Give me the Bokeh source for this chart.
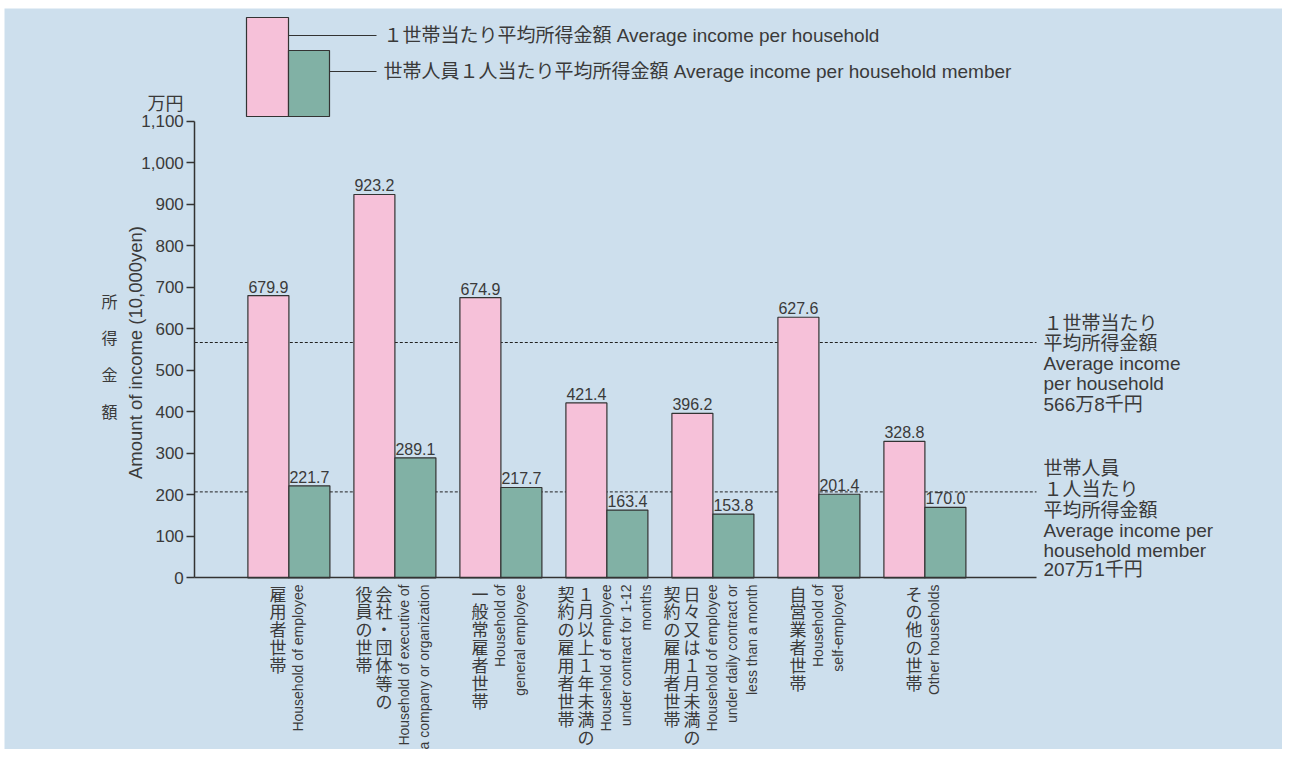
import math
from bokeh.plotting import figure
from bokeh.models import Range1d, LinearAxis, FixedTicker, NumeralTickFormatter
from bokeh.core.properties import value
from bokeh.embed import file_html
from bokeh.resources import INLINE

# ---------------- data ----------------
ja_columns = [
    ["雇用者世帯"],
    ["会社・団体等の", "役員の世帯"],
    ["一般常雇者世帯"],
    ["１月以上１年未満の", "契約の雇用者世帯"],
    ["日々又は１月未満の", "契約の雇用者世帯"],
    ["自営業者世帯"],
    ["その他の世帯"],
]
en_lines = [
    ["Household of employee"],
    ["Household of executive of", "a company or organization"],
    ["Household of", "general employee"],
    ["Household of employee", "under contract for 1-12", "months"],
    ["Household of employee", "under daily contract or", "less than a month"],
    ["Household of", "self-employed"],
    ["Other households"],
]
income_household = [679.9, 923.2, 674.9, 421.4, 396.2, 627.6, 328.8]
income_member = [221.7, 289.1, 217.7, 163.4, 153.8, 201.4, 170.0]
avg_household = 566.8
avg_member = 207.1
y_ticks = list(range(0, 1101, 100))
series_names = ["１世帯当たり平均所得金額 Average income per household",
                "世帯人員１人当たり平均所得金額 Average income per household member"]
avg_household_note = ["１世帯当たり", "平均所得金額", "Average income", "per household"]
avg_member_note = ["世帯人員", "１人当たり", "平均所得金額", "Average income per", "household member"]
y_unit = "万円"
y_title_ja = "所得金額"
y_title_en = "Amount of income (10,000yen)"

# ---------------- layout / style ----------------
W, H = 1282, 749
FL, FT = 4, 8           # frame left / top offsets (white strip)
GX0 = 288.4             # pixel of group 0 centre
GDX = 106.0             # pixels per group
Y0 = 577.4              # pixel of value 0
PPV = 0.4153            # pixels per unit
BW = 41.0 / GDX

BG = "#cddfed"
PINK = "#f6c1d9"
GREEN = "#81b1a5"
INK = "#3a3a3a"
EDGE = "#333333"
JP = value("Noto Sans CJK JP")
MIX = value("Liberation Sans, Noto Sans CJK JP")
NUM = value("Liberation Sans")


def fx(px):
    return (px - GX0) / GDX


def fy(py):
    return (Y0 - py) / PPV


p = figure(width=W, height=H, output_backend="svg", toolbar_location=None,
           x_axis_type=None, y_axis_type=None,
           x_range=Range1d(fx(FL), fx(W)),
           y_range=Range1d(fy(H), fy(FT)),
           min_border_left=FL, min_border_top=FT, min_border_right=0, min_border_bottom=0,
           background_fill_color=BG, border_fill_color="white",
           outline_line_color=None)

# axes
yax = LinearAxis(fixed_location=fx(194.3), bounds=(0, 1100),
                 ticker=FixedTicker(ticks=y_ticks),
                 formatter=NumeralTickFormatter(format="0,0"))
yax.axis_line_color = EDGE
yax.axis_line_width = 1.5
yax.major_tick_line_color = EDGE
yax.major_tick_line_width = 1.5
yax.major_tick_out = 8
yax.major_tick_in = 0
yax.minor_tick_line_color = None
yax.major_label_standoff = 3
yax.major_label_text_font = "Liberation Sans"
yax.major_label_text_font_size = "17px"
yax.major_label_text_color = INK
p.add_layout(yax, "left")

xax = LinearAxis(fixed_location=0, bounds=(fx(194.3), fx(1036)),
                 ticker=FixedTicker(ticks=[]))
xax.axis_line_color = EDGE
xax.axis_line_width = 1.5
xax.major_tick_line_color = None
xax.minor_tick_line_color = None
xax.major_label_text_font_size = "0px"
p.add_layout(xax, "below")

# average dashed lines
p.segment(x0=[fx(194.3)] * 2, x1=[fx(1036)] * 2,
          y0=[avg_household, avg_member], y1=[avg_household, avg_member],
          line_color="#222222", line_width=1, line_dash="3 2")

# bars
n = len(income_household)
xs_h = [i - BW / 2 for i in range(n)]
xs_m = [i + BW / 2 for i in range(n)]
p.vbar(x=xs_h, top=income_household, width=BW, bottom=0,
       fill_color=PINK, line_color=EDGE, line_width=1.2)
p.vbar(x=xs_m, top=income_member, width=BW, bottom=0,
       fill_color=GREEN, line_color=EDGE, line_width=1.2)

# value labels
p.text(x=xs_h + xs_m, y=income_household + income_member,
       text=[f"{v:.1f}" for v in income_household + income_member],
       text_align="center", text_baseline="bottom", y_offset=-3,
       text_font=NUM, text_font_size="16px", text_color=INK)

# category labels
ja_x, ja_y, ja_t, en_x, en_t = [], [], [], [], []
PITCH = 20.0
CH = 17.9
for i in range(n):
    cols = [("ja", c) for c in reversed(ja_columns[i])] + [("en", c) for c in en_lines[i]]
    m = len(cols)
    for k, (kind, t) in enumerate(cols):
        off = (k - (m - 1) / 2) * PITCH - 1
        if kind == "ja":
            for j, ch in enumerate(t):
                ja_x.append(i + off / GDX)
                ja_y.append(fy(592.5 + j * CH))
                ja_t.append(ch)
        else:
            en_x.append(i + off / GDX)
            en_t.append(t)
p.text(x=ja_x, y=ja_y, text=ja_t, text_align="center",
       text_baseline="middle", text_font=JP,
       text_font_size="17px", text_color=INK)
p.text(x=en_x, y=[fy(584)] * len(en_x), text=en_t, angle=math.pi / 2,
       text_align="right", text_baseline="middle", text_font=NUM,
       text_font_size="14px", text_color=INK)

# y title
p.text(x=[fx(135)], y=[fy(352)], text=[y_title_en], angle=math.pi / 2,
       text_align="center", text_baseline="middle", text_font=MIX,
       text_font_size="18.5px", text_color=INK)
p.text(x=[fx(109)] * len(y_title_ja), y=[fy(300 + 36.7 * k) for k in range(len(y_title_ja))],
       text=list(y_title_ja), text_align="center", text_baseline="middle",
       text_font=JP, text_font_size="16px", text_color=INK)
p.text(x=[fx(183)], y=[fy(101)], text=[y_unit], text_align="right",
       text_baseline="middle", text_font=JP, text_font_size="18px", text_color=INK)

# legend
p.quad(left=[fx(246)], right=[fx(288)], top=[fy(17)], bottom=[fy(116)],
       fill_color=PINK, line_color=EDGE, line_width=1.2)
p.quad(left=[fx(288)], right=[fx(329)], top=[fy(50)], bottom=[fy(116)],
       fill_color=GREEN, line_color=EDGE, line_width=1.2)
p.segment(x0=[fx(288), fx(329)], x1=[fx(376), fx(376)],
          y0=[fy(35), fy(71)], y1=[fy(35), fy(71)], line_color=EDGE, line_width=1.2)
p.text(x=[fx(383)] * 2, y=[fy(35), fy(71)], text=series_names,
       text_align="left", text_baseline="middle", text_font=MIX,
       text_font_size="19px", text_color=INK)


# right-side notes
def man_sen(v):
    return f"{int(v)}万{int(round((v - int(v)) * 10))}千円"


note1 = avg_household_note + [man_sen(avg_household)]
note2 = avg_member_note + [man_sen(avg_member)]
y1 = [322.7, 343.3, 363, 382.5, 404]
y2 = [468.3, 489, 510, 530, 549.5, 569]
p.text(x=[fx(1043)] * (len(note1) + len(note2)), y=[fy(v) for v in y1 + y2],
       text=note1 + note2, text_align="left", text_baseline="middle",
       text_font=MIX, text_font_size="19px", text_color=INK)

open("out.html", "w").write(file_html(p, INLINE))
